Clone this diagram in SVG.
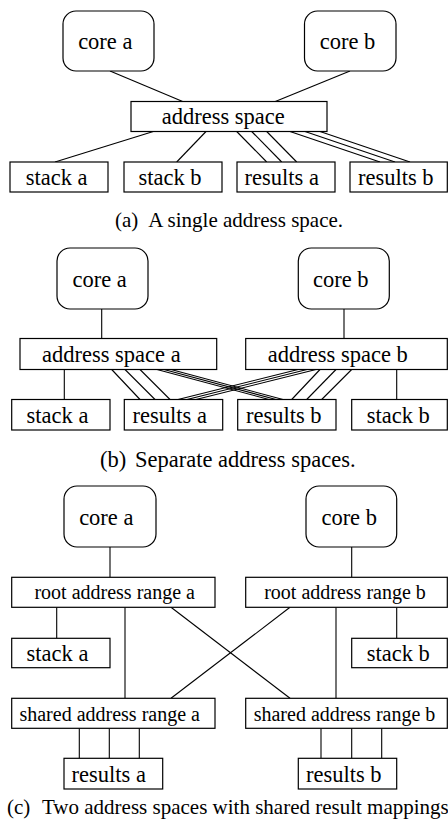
<svg xmlns="http://www.w3.org/2000/svg" width="448" height="826" viewBox="0 0 448 826">
<style>
rect{fill:#fff;stroke:#000;stroke-width:1.2}
.core{rx:13px}
line{stroke:#000;stroke-width:1.1}
text{fill:#000;font-size:22.5px;text-anchor:middle}
.s{font-size:20px}
.cap{font-size:21px;text-anchor:start}
.capb{font-size:22.5px;text-anchor:start}
</style>
<rect x="0" y="0" width="448" height="826" style="fill:#fff;stroke:none"/>
<g id="connectors">
<line x1="110" y1="71" x2="182.7" y2="101.5"/>
<line x1="350" y1="71" x2="275.3" y2="101.5"/>
<line x1="153.3" y1="131.5" x2="55" y2="162"/>
<line x1="206" y1="131.5" x2="176.7" y2="162"/>
<line x1="236.7" y1="131.5" x2="266.7" y2="162"/>
<line x1="251.7" y1="131.5" x2="281.7" y2="162"/>
<line x1="266.7" y1="131.5" x2="296.7" y2="162"/>
<line x1="290" y1="131.5" x2="380" y2="162"/>
<line x1="305" y1="131.5" x2="395" y2="162"/>
<line x1="320" y1="131.5" x2="410" y2="162"/>
<line x1="101.7" y1="309" x2="101.7" y2="338.5"/>
<line x1="344" y1="309" x2="344" y2="338.5"/>
<line x1="64.3" y1="369.5" x2="64.3" y2="399.5"/>
<line x1="396.7" y1="369.5" x2="396.7" y2="399.5"/>
<line x1="111.7" y1="369.5" x2="140" y2="399.5"/>
<line x1="125" y1="369.5" x2="155" y2="399.5"/>
<line x1="140" y1="369.5" x2="170" y2="399.5"/>
<line x1="157" y1="369.5" x2="269" y2="399.5"/>
<line x1="164" y1="369.5" x2="276" y2="399.5"/>
<line x1="171" y1="369.5" x2="283" y2="399.5"/>
<line x1="298" y1="369.5" x2="178" y2="399.5"/>
<line x1="307" y1="369.5" x2="187" y2="399.5"/>
<line x1="316" y1="369.5" x2="196" y2="399.5"/>
<line x1="320" y1="369.5" x2="291.7" y2="399.5"/>
<line x1="336" y1="369.5" x2="306.7" y2="399.5"/>
<line x1="351.7" y1="369.5" x2="321.7" y2="399.5"/>
<line x1="110" y1="547" x2="110" y2="577.3"/>
<line x1="351.7" y1="547" x2="351.7" y2="577.3"/>
<line x1="56.7" y1="607.3" x2="56.7" y2="638.3"/>
<line x1="396.7" y1="607.3" x2="396.7" y2="638.3"/>
<line x1="125" y1="607.3" x2="125" y2="698.3"/>
<line x1="336" y1="607.3" x2="336" y2="698.3"/>
<line x1="171" y1="607.3" x2="290" y2="698.3"/>
<line x1="290" y1="607.3" x2="171" y2="698.3"/>
<line x1="79.3" y1="728.3" x2="79.3" y2="758.3"/>
<line x1="109.3" y1="728.3" x2="109.3" y2="758.3"/>
<line x1="139.3" y1="728.3" x2="139.3" y2="758.3"/>
<line x1="321" y1="728.3" x2="321" y2="758.3"/>
<line x1="351.7" y1="728.3" x2="351.7" y2="758.3"/>
<line x1="381.7" y1="728.3" x2="381.7" y2="758.3"/>
</g>
<g font-family="Liberation Serif, Times New Roman, serif">
<g id="a-core-a"><rect class="core" x="63" y="11" width="91" height="60"/><text x="105.3" y="49">core a</text></g>
<g id="a-core-b"><rect class="core" x="304.5" y="11" width="91.5" height="60"/><text x="347.5" y="49">core b</text></g>
<g id="a-address-space"><rect x="131" y="101.5" width="196" height="30"/><text x="223.3" y="124">address space</text></g>
<g id="a-stack-a"><rect x="10" y="162" width="98" height="30"/><text x="56.7" y="185">stack a</text></g>
<g id="a-stack-b"><rect x="124" y="162" width="98" height="30"/><text x="170" y="185">stack b</text></g>
<g id="a-results-a"><rect x="237" y="162" width="98" height="30"/><text x="281.7" y="185">results a</text></g>
<g id="a-results-b"><rect x="350" y="162" width="97.3" height="30"/><text x="395.8" y="185">results b</text></g>
<text class="cap" x="115" y="227">(a)<tspan x="148.3">A single address space.</tspan></text>
<g id="b-core-a"><rect class="core" x="57" y="248" width="91" height="61"/><text x="99.7" y="286.5">core a</text></g>
<g id="b-core-b"><rect class="core" x="298.3" y="248" width="91" height="61"/><text x="340.8" y="286.5">core b</text></g>
<g id="b-address-space-a"><rect x="20" y="338.5" width="196.7" height="31"/><text x="111.3" y="361.7">address space a</text></g>
<g id="b-address-space-b"><rect x="245.7" y="338.5" width="201.6" height="31"/><text x="337.8" y="361.7">address space b</text></g>
<g id="b-stack-a"><rect x="11.7" y="399.5" width="98.3" height="30.5"/><text x="57.5" y="422.7">stack a</text></g>
<g id="b-results-a"><rect x="124.3" y="399.5" width="98.4" height="30.5"/><text x="169.7" y="422.7">results a</text></g>
<g id="b-results-b"><rect x="237.7" y="399.5" width="98.3" height="30.5"/><text x="283.8" y="422.7">results b</text></g>
<g id="b-stack-b"><rect x="351.7" y="399.5" width="95.6" height="30.5"/><text x="398.3" y="422.7">stack b</text></g>
<text class="capb" x="100" y="467">(b)<tspan x="135">Separate address spaces.</tspan></text>
<g id="c-core-a"><rect class="core" x="64" y="486" width="92" height="61"/><text x="106.3" y="525">core a</text></g>
<g id="c-core-b"><rect class="core" x="306" y="486" width="90.7" height="61"/><text x="349.2" y="525">core b</text></g>
<g id="c-root-a"><rect x="11.7" y="577.3" width="203.3" height="30"/><text class="s" x="114.7" y="599.3">root address range a</text></g>
<g id="c-root-b"><rect x="245.7" y="577.3" width="201.6" height="30"/><text class="s" x="345" y="599.3">root address range b</text></g>
<g id="c-stack-a"><rect x="11.7" y="638.3" width="98.3" height="29.4"/><text x="57.5" y="661">stack a</text></g>
<g id="c-stack-b"><rect x="351.7" y="638.3" width="95.6" height="29.4"/><text x="398.3" y="661">stack b</text></g>
<g id="c-shared-a"><rect x="11.7" y="698.3" width="203.3" height="30"/><text class="s" x="109.7" y="720.5">shared address range a</text></g>
<g id="c-shared-b"><rect x="245.7" y="698.3" width="201.6" height="30"/><text class="s" x="344.5" y="720.5">shared address range b</text></g>
<g id="c-results-a"><rect x="64" y="758.3" width="98.7" height="30.7"/><text x="108.8" y="781.7">results a</text></g>
<g id="c-results-b"><rect x="298.3" y="758.3" width="98.4" height="30.7"/><text x="343.8" y="781.7">results b</text></g>
<text class="cap" x="7" y="814">(c)<tspan x="42">Two address spaces with shared result mappings</tspan></text>
</g>
</svg>
